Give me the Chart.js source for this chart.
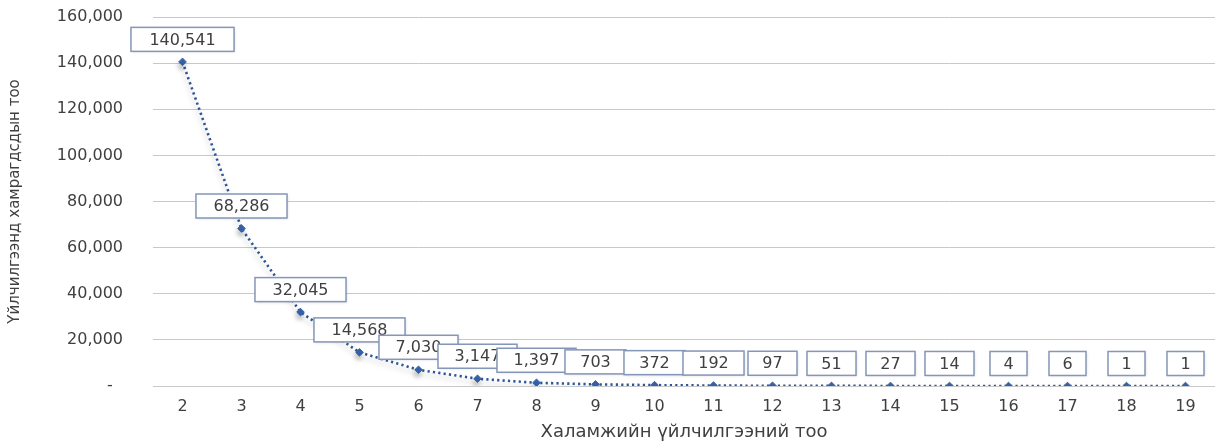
<!DOCTYPE html>
<html>
<head>
<meta charset="utf-8">
<script src="https://cdn.jsdelivr.net/npm/chart.js@4"></script>
<style>
  html, body { margin: 0; padding: 0; background: #ffffff; }
  #wrap { width: 1220px; height: 443px; position: relative; }
</style>
</head>
<body>
<div id="wrap"><canvas id="c"></canvas></div>
<script>
const categories = ['2','3','4','5','6','7','8','9','10','11','12','13','14','15','16','17','18','19'];
const counts = [140541, 68286, 32045, 14568, 7030, 3147, 1397, 703, 372, 192, 97, 51, 27, 14, 4, 6, 1, 1];
const yTicks = [0, 20000, 40000, 60000, 80000, 100000, 120000, 140000, 160000];
const yTitle = 'Үйлчилгээнд хамрагдсдын тоо';
const xTitle = 'Халамжийн үйлчилгээний тоо';

const FONT = '"DejaVu Sans", "Liberation Sans", sans-serif';
Chart.defaults.font.family = FONT;
Chart.defaults.color = '#404040';

const fmt = v => v.toLocaleString('en-US');

const shadowPlugin = {
  id: 'lineShadow',
  beforeDatasetDraw(chart) {
    const ctx = chart.ctx;
    ctx.save();
    ctx.shadowColor = 'rgba(0,0,0,0.25)';
    ctx.shadowBlur = 5;
    ctx.shadowOffsetX = -1;
    ctx.shadowOffsetY = 4;
  },
  afterDatasetDraw(chart) {
    chart.ctx.restore();
  }
};

const boxLabels = {
  id: 'boxLabels',
  afterDatasetsDraw(chart) {
    const ctx = chart.ctx;
    const meta = chart.getDatasetMeta(0);
    ctx.save();
    ctx.font = '16px ' + FONT;
    ctx.textAlign = 'center';
    ctx.textBaseline = 'middle';
    meta.data.forEach((pt, i) => {
      const txt = fmt(counts[i]);
      const tw = ctx.measureText(txt).width;
      const w = tw * 1.18 + 25, h = 24;
      const cx = pt.x, cy = pt.y - 22.5;
      ctx.shadowColor = 'rgba(0,0,0,0.18)';
      ctx.shadowBlur = 3;
      ctx.shadowOffsetX = 1;
      ctx.shadowOffsetY = 1;
      ctx.fillStyle = '#ffffff';
      ctx.fillRect(cx - w / 2, cy - h / 2, w, h);
      ctx.shadowColor = 'transparent';
      ctx.strokeStyle = '#8596b8';
      ctx.lineWidth = 1.5;
      ctx.strokeRect(cx - w / 2, cy - h / 2, w, h);
      ctx.fillStyle = '#404040';
      ctx.fillText(txt, cx, cy + 1);
    });
    ctx.restore();
  }
};

new Chart(document.getElementById('c'), {
  type: 'line',
  data: {
    labels: categories,
    datasets: [{
      data: counts,
      borderColor: '#2f5597',
      borderWidth: 2.6,
      borderDash: [2.2, 3.2],
      borderCapStyle: 'butt',
      tension: 0,
      fill: false,
      pointStyle: 'rectRot',
      pointRadius: 3.8,
      pointBackgroundColor: '#3563ac',
      pointBorderColor: '#3563ac',
      pointBorderWidth: 1
    }]
  },
  options: {
    responsive: true,
    maintainAspectRatio: false,
    animation: false,
    layout: { padding: { top: 17, left: 0, right: 0, bottom: 0 } },
    plugins: {
      legend: { display: false },
      tooltip: { enabled: false }
    },
    scales: {
      x: {
        offset: true,
        grid: { display: false, drawTicks: false },
        border: { display: false },
        ticks: { padding: 11, font: { size: 16 }, color: '#404040' },
        title: { display: true, text: xTitle, font: { size: 18 }, color: '#404040', padding: { top: 0, bottom: 0 } },
        afterFit(s) { s.height = 57; }
      },
      y: {
        min: 0,
        max: 160000,
        afterBuildTicks(s) { s.ticks = yTicks.map(v => ({ value: v })); },
        grid: { color: '#c8c8c8', lineWidth: 1, drawTicks: false },
        border: { display: false },
        ticks: {
          padding: 30,
          font: { size: 16 },
          color: '#404040',
          callback: v => v === 0 ? '-  ' : fmt(v)
        },
        title: { display: true, text: yTitle, font: { size: 15 }, color: '#404040', padding: { top: 6, bottom: 0 } },
        afterFit(s) { s.width = 153; s.paddingTop = 10; s.paddingBottom = 10; }
      }
    }
  },
  plugins: [shadowPlugin, boxLabels]
});
</script>
</body>
</html>
